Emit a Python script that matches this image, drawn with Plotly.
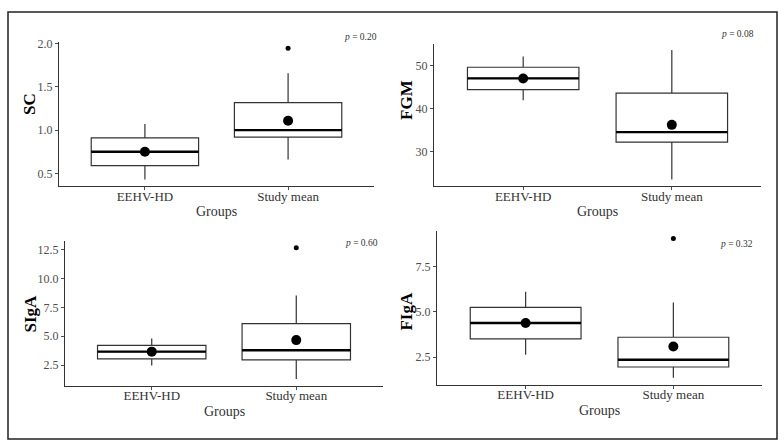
import plotly.graph_objects as go

W, H = 784, 445

groups = ["EEHV-HD", "Study mean"]
group_pos = [0, 1]

# Per-panel box statistics
panels = ["SC", "FGM", "SIgA", "FIgA"]
p_values = ["0.20", "0.08", "0.60", "0.32"]

sc_lower = [0.43, 0.66]
sc_q1 = [0.59, 0.92]
sc_median = [0.75, 1.00]
sc_q3 = [0.91, 1.32]
sc_upper = [1.07, 1.66]
sc_mean = [0.75, 1.11]
sc_outliers_x = [1]
sc_outliers_y = [1.95]

fgm_lower = [41.9, 23.5]
fgm_q1 = [44.4, 32.2]
fgm_median = [47.0, 34.5]
fgm_q3 = [49.6, 43.6]
fgm_upper = [52.1, 53.6]
fgm_mean = [47.0, 36.2]
fgm_outliers_x = []
fgm_outliers_y = []

siga_lower = [2.45, 1.28]
siga_q1 = [3.03, 2.95]
siga_median = [3.66, 3.78]
siga_q3 = [4.20, 6.09]
siga_upper = [4.80, 8.53]
siga_mean = [3.66, 4.66]
siga_outliers_x = [1]
siga_outliers_y = [12.65]

figa_lower = [2.63, 1.36]
figa_q1 = [3.50, 1.95]
figa_median = [4.38, 2.35]
figa_q3 = [5.24, 3.59]
figa_upper = [6.10, 5.50]
figa_mean = [4.38, 3.08]
figa_outliers_x = [1]
figa_outliers_y = [9.04]

y_ticks = {
    "SC": [0.5, 1.0, 1.5, 2.0],
    "FGM": [30, 40, 50],
    "SIgA": [2.5, 5.0, 7.5, 10.0, 12.5],
    "FIgA": [2.5, 5.0, 7.5],
}
y_ticktext = {
    "SC": ["0.5", "1.0", "1.5", "2.0"],
    "FGM": ["30", "40", "50"],
    "SIgA": ["2.5", "5.0", "7.5", "10.0", "12.5"],
    "FIgA": ["2.5", "5.0", "7.5"],
}

data = {
    "SC": (sc_lower, sc_q1, sc_median, sc_q3, sc_upper, sc_mean, sc_outliers_x, sc_outliers_y),
    "FGM": (fgm_lower, fgm_q1, fgm_median, fgm_q3, fgm_upper, fgm_mean, fgm_outliers_x, fgm_outliers_y),
    "SIgA": (siga_lower, siga_q1, siga_median, siga_q3, siga_upper, siga_mean, siga_outliers_x, siga_outliers_y),
    "FIgA": (figa_lower, figa_q1, figa_median, figa_q3, figa_upper, figa_mean, figa_outliers_x, figa_outliers_y),
}

# Layout in pixels: (left, right, top, bottom) of each plot area
px_dom = {
    "SC": (59, 374, 37, 183),
    "FGM": (434, 761, 39, 183),
    "SIgA": (65, 383, 239, 385),
    "FIgA": (437, 762, 229, 384),
}
ytitle_px = {"SC": (30, 100), "FGM": (407, 96), "SIgA": (30, 312), "FIgA": (407, 310)}
ptext_px = {"SC": (379, 32), "FGM": (756, 29), "SIgA": (380, 241), "FIgA": (755, 242)}

SERIF = "Liberation Serif"
AXC = "#333333"
TICKC = "#4d4d4d"

fig = go.Figure()
annotations = []
box_w = 0.75
half = box_w / 2

for i, name in enumerate(panels):
    lower, q1, med, q3, upper, mean, ox, oy = data[name]
    xa = "x" if i == 0 else f"x{i+1}"
    ya = "y" if i == 0 else f"y{i+1}"
    fig.add_trace(go.Box(
        x=group_pos, q1=q1, median=med, q3=q3, lowerfence=lower, upperfence=upper,
        width=box_w,
        fillcolor="white", line=dict(color=AXC, width=1.2), whiskerwidth=0,
        boxpoints=False, xaxis=xa, yaxis=ya, showlegend=False, hoverinfo="skip",
    ))
    # thicker median line
    for gx, m in zip(group_pos, med):
        fig.add_trace(go.Scatter(
            x=[gx - half, gx + half], y=[m, m], mode="lines",
            line=dict(color="black", width=2.4), xaxis=xa, yaxis=ya,
            showlegend=False, hoverinfo="skip",
        ))
    # outliers
    if ox:
        fig.add_trace(go.Scatter(
            x=ox, y=oy, mode="markers", marker=dict(color="black", size=5),
            xaxis=xa, yaxis=ya, showlegend=False,
        ))
    # means
    fig.add_trace(go.Scatter(
        x=group_pos, y=mean, mode="markers", marker=dict(color="black", size=10),
        xaxis=xa, yaxis=ya, showlegend=False,
    ))

    l, r, t, b = px_dom[name]
    lo, hi = min(lower + oy), max(upper + oy)
    pad = 0.05 * (hi - lo)
    axis_common = dict(
        showline=True, linecolor=AXC, linewidth=1, ticks="outside", ticklen=3,
        tickcolor=TICKC, showgrid=False, zeroline=False, mirror=False,
    )
    fig.layout[f"xaxis{'' if i == 0 else i+1}"] = dict(
        domain=[l / W, r / W], anchor=ya, range=[-0.6, 1.6],
        tickvals=group_pos, ticktext=groups, ticklabelstandoff=-5,
        tickfont=dict(family=SERIF, size=13, color=AXC), **axis_common,
    )
    fig.layout[f"yaxis{'' if i == 0 else i+1}"] = dict(
        domain=[1 - b / H, 1 - t / H], anchor=xa, range=[lo - pad, hi + pad],
        tickvals=y_ticks[name], ticktext=y_ticktext[name],
        tickfont=dict(family=SERIF, size=12, color=TICKC), **axis_common,
    )
    tx, ty = ytitle_px[name]
    annotations.append(dict(
        text=f"<b>{name}</b>", x=tx / W, y=1 - ty / H, xref="paper", yref="paper",
        textangle=-90, showarrow=False, font=dict(family=SERIF, size=17, color="black"),
        xanchor="center", yanchor="middle",
    ))
    annotations.append(dict(
        text="Groups", x=(l + r) / 2 / W, y=1 - (b + 26) / H, xref="paper", yref="paper",
        showarrow=False, font=dict(family=SERIF, size=14, color=AXC),
        xanchor="center", yanchor="middle",
    ))
    px_, py_ = ptext_px[name]
    annotations.append(dict(
        text=f"<i>p</i> = {p_values[i]}", x=px_ / W, y=1 - py_ / H, xref="paper", yref="paper",
        showarrow=False, font=dict(family=SERIF, size=9.5, color=AXC),
        xanchor="right", yanchor="middle",
    ))

fig.update_layout(
    width=W, height=H, margin=dict(l=0, r=0, t=0, b=0),
    paper_bgcolor="white", plot_bgcolor="white",
    annotations=annotations, boxmode="overlay",
    shapes=[dict(type="rect", xref="paper", yref="paper",
                 x0=8 / W, x1=777 / W, y0=1 - 439 / H, y1=1 - 7 / H,
                 line=dict(color="#222222", width=1.5))],
)

fig.write_html(
    "out.html",
    config={"displayModeBar": False},
    post_script="document.body.style.margin='0px';document.body.style.overflow='hidden';",
)
